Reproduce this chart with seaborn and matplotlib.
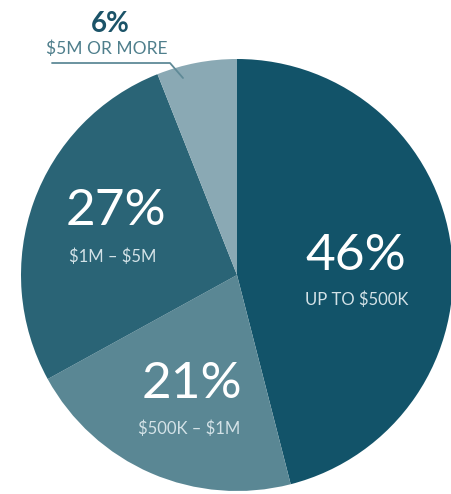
import numpy as np
import matplotlib
matplotlib.use("Agg")
import matplotlib.pyplot as plt
import seaborn as sns
from matplotlib.lines import Line2D

## data
shares = [46, 21, 27, 6]
pct_labels = ["46%", "21%", "27%", "6%"]
range_labels = ["UP TO $500K", "$500K – $1M", "$1M – $5M", "$5M OR MORE"]
colors = ["#125369", "#5a8794", "#2a6476", "#8aa9b4"]

sns.set_theme(style="white")
plt.rcParams['font.family'] = ['Lato', 'DejaVu Sans']

W, H = 452, 494
fig = plt.figure(figsize=(W / 100, H / 100), dpi=100)
ax = fig.add_axes([0, 0, 1, 1])

# pie centre (237, 275) px, radius 216 px
cx, cy, r = 237, 275, 216
ax.pie(shares, colors=colors, startangle=90, counterclock=False,
       wedgeprops=dict(linewidth=0))
ax.set_xlim(-cx / r, (W - cx) / r)
ax.set_ylim(-(H - cy) / r, cy / r)
ax.set_aspect("equal")
ax.axis("off")

def ftext(px, py, s, **kw):
    fig.text(px / W, 1 - py / H, s, ha="center", va="center",
             parse_math=False, **kw)

# label positions in pixels (number, range)
inner = {0: ((356, 256), (357, 300)),
         1: ((192, 384), (189, 429)),
         2: ((116, 211), (113, 257))}
for i, ((nx, ny), (sx, sy)) in inner.items():
    ftext(nx, ny, pct_labels[i], color="white", fontsize=37)
    ftext(sx, sy, range_labels[i], color="#d3e2e7", fontsize=12)

# small slice, labelled outside with a leader
ftext(110, 24, pct_labels[3], color="#1b5368", fontsize=20, fontweight="bold")
ftext(107, 49, range_labels[3], color="#4f7f8c", fontsize=12.5)
fig.add_artist(Line2D([52 / W, 170 / W, 183 / W],
                      [1 - 63 / H, 1 - 63 / H, 1 - 78 / H],
                      transform=fig.transFigure, color="#5f8a97", lw=1.3))

fig.savefig("out.png", dpi=100)
